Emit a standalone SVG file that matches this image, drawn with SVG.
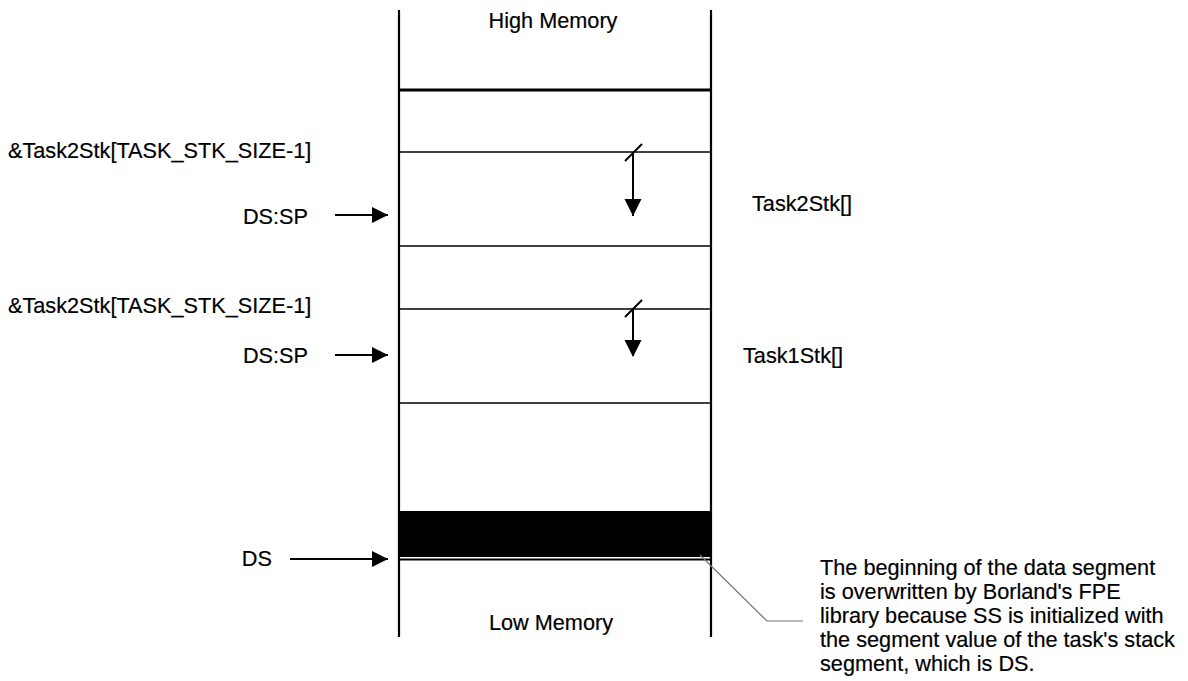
<svg xmlns="http://www.w3.org/2000/svg" width="1188" height="681" viewBox="0 0 1188 681">
<style>
text{font-family:"Liberation Sans",Arial,sans-serif;font-size:21.7px;fill:#000;stroke:#000;stroke-width:0.2}
.ln{stroke:#000;stroke-width:2;fill:none}
.thin{stroke:#000;stroke-width:1.6;fill:none}
</style>
<defs>
<marker id="ah" markerWidth="16" markerHeight="16" refX="16" refY="8" orient="auto" markerUnits="userSpaceOnUse" viewBox="0 0 16 16">
<path d="M0,0 L16,8 L0,16 Z" fill="#000"/>
</marker>
</defs>
<rect width="1188" height="681" fill="#fff"/>
<g id="memory">
<line x1="399" y1="10" x2="399" y2="637" stroke="#000" stroke-width="2.2"/>
<line x1="711" y1="10" x2="711" y2="637" stroke="#000" stroke-width="2.2"/>
<line x1="398" y1="90" x2="712" y2="90" stroke="#000" stroke-width="3"/>
<line class="thin" x1="399" y1="152" x2="711" y2="152"/>
<line class="thin" x1="399" y1="246" x2="711" y2="246"/>
<line class="thin" x1="399" y1="309" x2="711" y2="309"/>
<line class="thin" x1="399" y1="403" x2="711" y2="403"/>
<rect x="399" y="511" width="312" height="46" fill="#000"/>
<line x1="399" y1="559.5" x2="711" y2="559.5" stroke="#000" stroke-width="2"/>
<text x="553" y="28" text-anchor="middle">High Memory</text>
<text x="551" y="630" text-anchor="middle">Low Memory</text>
</g>
<g id="task2stk">
<text x="752" y="211">Task2Stk[]</text>
</g>
<g id="task1stk">
<text x="743" y="363">Task1Stk[]</text>
</g>
<g id="labels">
<text x="8" y="158">&amp;Task2Stk[TASK_STK_SIZE-1]</text>
<text x="308" y="224" text-anchor="end">DS:SP</text>
<text x="8" y="313">&amp;Task2Stk[TASK_STK_SIZE-1]</text>
<text x="308" y="363" text-anchor="end">DS:SP</text>
<text x="272" y="566" text-anchor="end">DS</text>
</g>
<g id="note">
<text x="820" y="575">The beginning of the data segment</text>
<text x="820" y="599">is overwritten by Borland's FPE</text>
<text x="820" y="623">library because SS is initialized with</text>
<text x="820" y="647">the segment value of the task's stack</text>
<text x="820" y="671">segment, which is DS.</text>
</g>
<g id="connectors">
<line x1="335" y1="215" x2="388" y2="215" class="ln" marker-end="url(#ah)"/>
<line x1="335" y1="355" x2="388" y2="355" class="ln" marker-end="url(#ah)"/>
<line x1="290" y1="559" x2="388" y2="559" class="ln" marker-end="url(#ah)"/>
<line x1="633" y1="152" x2="633" y2="216" class="ln"/>
<path d="M624.5,199 L641.5,199 L633,216 Z" fill="#000"/>
<line x1="625" y1="161" x2="642" y2="144" class="ln"/>
<line x1="633" y1="309" x2="633" y2="356" class="ln"/>
<path d="M624.5,340 L641.5,340 L633,357 Z" fill="#000"/>
<line x1="625" y1="317" x2="642" y2="300" class="ln"/>
<polyline points="700,555 767,621 803,621" fill="none" stroke="#777" stroke-width="1.2"/>
</g>
</svg>
